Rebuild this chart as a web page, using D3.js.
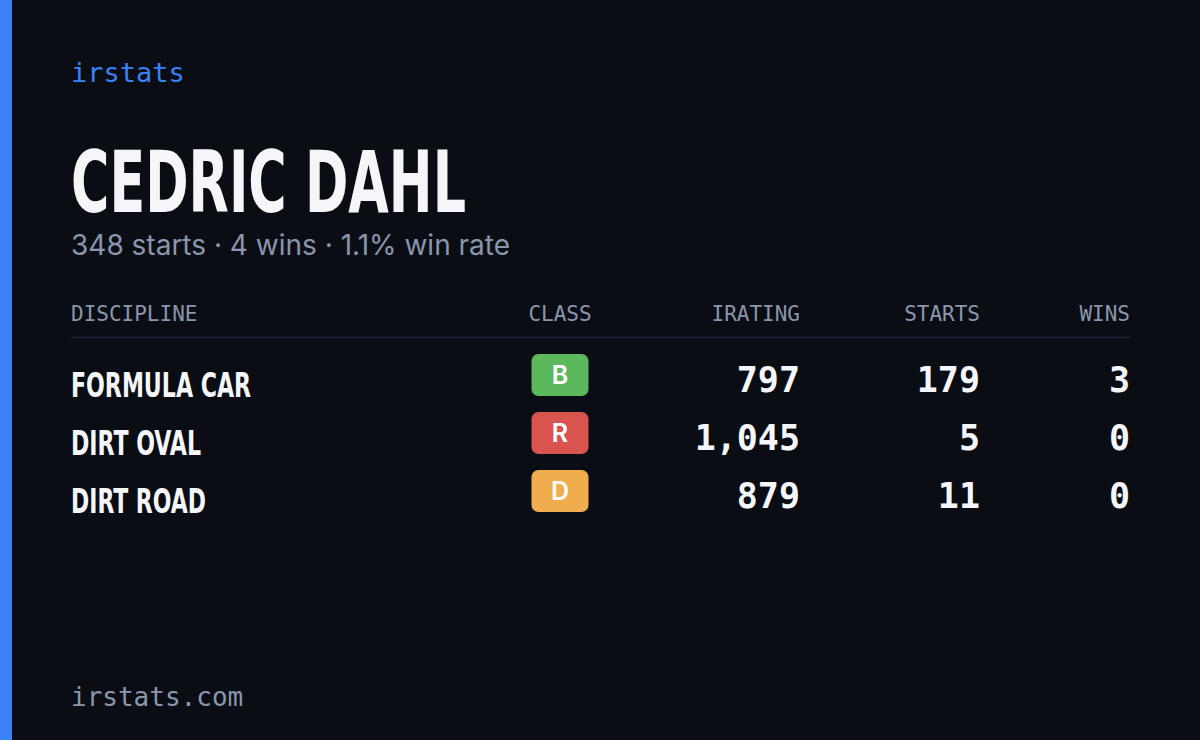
<!DOCTYPE html>
<html><head><meta charset="utf-8">
<script src="https://cdn.jsdelivr.net/npm/d3@7"></script>
<style>body{margin:0;background:#0a0d14}</style>
</head><body><div id="chart"></div>
<script>
(function () {
  const driver = "CEDRIC DAHL"
  const summary = "348 starts · 4 wins · 1.1% win rate"
  const disciplines = ["FORMULA CAR", "DIRT OVAL", "DIRT ROAD"]
  const classes = ["B", "R", "D"]
  const iratings = [797, 1045, 879]
  const starts = [179, 5, 11]
  const wins = [3, 0, 0]
  const headers = ["DISCIPLINE", "CLASS", "IRATING", "STARTS", "WINS"]

  const W = 1200, H = 740
  const mono = "'DejaVu Sans Mono', monospace"
  const narrow = "'Liberation Sans Narrow', 'DejaVu Sans Condensed', sans-serif"
  const muted = "#8a96ab"

  const svg = d3.select("#chart").append("svg").attr("width", W).attr("height", H)
  svg.append("rect").attr("width", W).attr("height", H).attr("fill", "#0a0d14")
  svg.append("rect").attr("width", 12).attr("height", H).attr("fill", "#3b82f6")

  svg.append("text").attr("x", 71).attr("y", 82).text("irstats")
    .attr("font-family", mono).attr("font-size", 27).attr("fill", "#3b82f6")
  svg.append("text").attr("x", 71).attr("y", 212).text(driver)
    .attr("font-family", narrow).attr("font-weight", 700).attr("font-size", 86)
    .attr("fill", "#f5f6fa").attr("textLength", 395).attr("lengthAdjust", "spacingAndGlyphs")
  svg.append("text").attr("x", 71).attr("y", 255).text(summary)
    .attr("font-family", "Inter, sans-serif").attr("font-size", 28).attr("fill", muted)
  svg.append("text").attr("x", 71).attr("y", 706).text("irstats.com")
    .attr("font-family", mono).attr("font-size", 26).attr("fill", muted)

  // column anchors
  const colX = d3.scaleOrdinal().domain(headers).range([71, 560, 800, 980, 1130])
  const colAnchor = d3.scaleOrdinal().domain(headers).range(["start", "middle", "end", "end", "end"])
  const rowY = d3.scalePoint().domain(disciplines).range([375, 491])
  const badgeColor = d3.scaleOrdinal().domain(["B", "R", "D"]).range(["#5cb85c", "#d9534f", "#f0ad4e"])
  const fmt = d3.format(",")

  svg.selectAll(".hdr").data(headers).join("text")
    .attr("x", d => colX(d)).attr("y", 321).attr("text-anchor", d => colAnchor(d))
    .attr("font-family", mono).attr("font-size", 21).attr("fill", muted).text(d => d)
  svg.append("line").attr("x1", 71).attr("x2", 1130).attr("y1", 337.5).attr("y2", 337.5)
    .attr("stroke", "#1c2130").attr("stroke-width", 2)

  const labelW = { "FORMULA CAR": 180, "DIRT OVAL": 130, "DIRT ROAD": 135 }
  const rows = svg.selectAll(".row").data(disciplines.map((d, i) => ({
    name: d, cls: classes[i], ir: iratings[i], st: starts[i], w: wins[i]
  }))).join("g").attr("transform", d => `translate(0,${rowY(d.name)})`)

  rows.append("text").attr("x", colX("DISCIPLINE")).attr("y", 22).text(d => d.name)
    .attr("font-family", narrow).attr("font-weight", 700).attr("font-size", 34).attr("fill", "#f5f6fa")
    .attr("textLength", d => labelW[d.name]).attr("lengthAdjust", "spacingAndGlyphs")
  rows.append("rect").attr("x", colX("CLASS") - 28.5).attr("y", -21).attr("width", 57).attr("height", 42)
    .attr("rx", 7).attr("fill", d => badgeColor(d.cls))
  rows.append("text").attr("x", colX("CLASS")).attr("y", 9).attr("text-anchor", "middle").text(d => d.cls)
    .attr("font-family", "Inter, sans-serif").attr("font-weight", 600).attr("font-size", 25).attr("fill", "#fff")
  const nums = [["IRATING", d => fmt(d.ir)], ["STARTS", d => d.st], ["WINS", d => d.w]]
  nums.forEach(([k, f]) => {
    rows.append("text").attr("x", colX(k)).attr("y", 17).attr("text-anchor", "end").text(f)
      .attr("font-family", mono).attr("font-weight", 600).attr("font-size", 35).attr("fill", "#f5f6fa")
  })
})();
</script></body></html>
